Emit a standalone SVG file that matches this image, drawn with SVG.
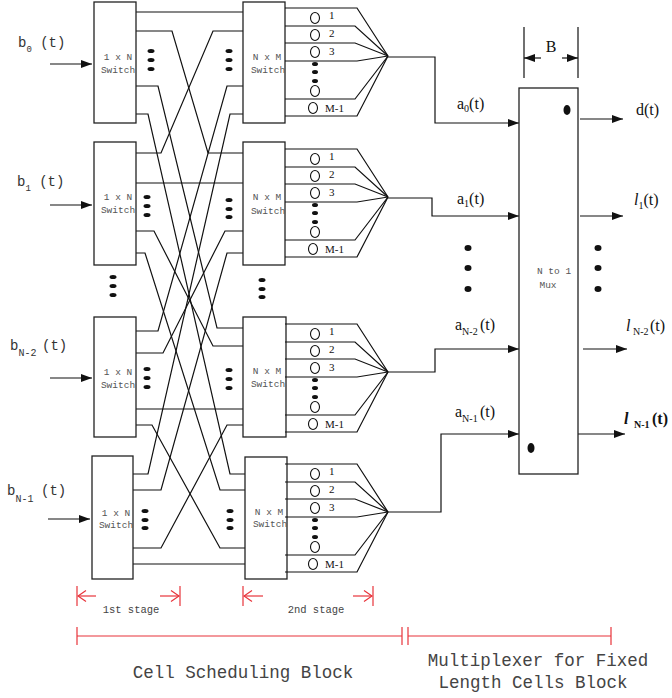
<svg xmlns="http://www.w3.org/2000/svg" width="672" height="698" viewBox="0 0 672 698">
<style>
.box{fill:#fff;stroke:#222;stroke-width:1.3}
.ln{fill:none;stroke:#111;stroke-width:1.2}
.sw{font-family:"Liberation Mono",monospace;font-size:9.5px;fill:#555;text-anchor:middle}
.in{font-family:"Liberation Mono",monospace;font-size:14px;fill:#333}
.se{font-family:"Liberation Serif",serif;font-size:16px;fill:#111}
.q{font-family:"Liberation Serif",serif;font-size:11px;fill:#111}
.dot{fill:#111}
.cq{fill:#fff;stroke:#111;stroke-width:1.1}
.red{fill:none;stroke:#e8333a;stroke-width:1.2}
.rt{font-family:"Liberation Mono",monospace;fill:#444}
</style>
<defs>
<marker id="ah" markerUnits="userSpaceOnUse" markerWidth="12" markerHeight="8" refX="11" refY="4" orient="auto"><path d="M0,0 L11,4 L0,8 z" fill="#111"/></marker>
<marker id="rah" markerUnits="userSpaceOnUse" markerWidth="10" markerHeight="12" refX="9" refY="6" orient="auto"><path d="M1,0.5 L9,6 L1,11.5" fill="none" stroke="#e8333a" stroke-width="1.2"/></marker>
<g id="queue">
<polyline class="ln" points="285,7 357,7 388,55"/>
<polyline class="ln" points="285,25 355,25 388,55"/>
<polyline class="ln" points="285,42 355,42 388,55"/>
<polyline class="ln" points="285,60 357,60 388,55"/>
<polyline class="ln" points="285,98 355,98 388,55"/>
<polyline class="ln" points="285,115 357,115 388,55"/>
<ellipse class="cq" cx="315" cy="17" rx="4.5" ry="5.5"/>
<ellipse class="cq" cx="315" cy="34" rx="4.5" ry="5.5"/>
<ellipse class="cq" cx="315" cy="51" rx="4.5" ry="5.5"/>
<ellipse class="cq" cx="315" cy="90" rx="4.5" ry="5.5"/>
<ellipse class="cq" cx="313" cy="107" rx="4.5" ry="5.5"/>
<ellipse class="dot" cx="315" cy="63" rx="3" ry="2"/>
<ellipse class="dot" cx="315" cy="71" rx="3" ry="2"/>
<ellipse class="dot" cx="315" cy="80" rx="3" ry="2"/>
<text class="q" x="329" y="18">1</text>
<text class="q" x="329" y="36">2</text>
<text class="q" x="329" y="54">3</text>
<text class="q" x="325" y="111">M-1</text>
</g>
</defs>

<g id="connectors">
<polyline class="ln" points="136,12 243,12"/>
<polyline class="ln" points="136,183 243,183"/>
<polyline class="ln" points="136,409 243,409"/>
<polyline class="ln" points="133,564 245,564"/>
<polyline class="ln" points="136,31 172,31 208,153 243,153"/>
<polyline class="ln" points="136,153 161,153 213,31 243,31"/>
<polyline class="ln" points="136,86 158,86 217,328 243,328"/>
<polyline class="ln" points="136,331 158,331 227,86 243,86"/>
<polyline class="ln" points="136,114 148,114 230,474 245,474"/>
<polyline class="ln" points="133,474 148,474 230,114 243,114"/>
<polyline class="ln" points="136,231 154,231 213,346 243,346"/>
<polyline class="ln" points="136,353 163,353 225,231 243,231"/>
<polyline class="ln" points="136,253 145,253 220,490 245,490"/>
<polyline class="ln" points="133,490 161,490 227,253 243,253"/>
<polyline class="ln" points="136,425 152,425 220,548 245,548"/>
<polyline class="ln" points="133,548 161,548 227,425 243,425"/>
<line class="ln" x1="50" y1="64" x2="92" y2="64" marker-end="url(#ah)"/>
<line class="ln" x1="50" y1="205" x2="92" y2="205" marker-end="url(#ah)"/>
<line class="ln" x1="50" y1="378" x2="92" y2="378" marker-end="url(#ah)"/>
<line class="ln" x1="48" y1="519" x2="90" y2="519" marker-end="url(#ah)"/>
<polyline class="ln" points="388,57 435,57 435,123 519,123" marker-end="url(#ah)"/>
<polyline class="ln" points="388,198 432,198 432,216 519,216" marker-end="url(#ah)"/>
<polyline class="ln" points="388,372 435,372 435,349 519,349" marker-end="url(#ah)"/>
<polyline class="ln" points="388,512 441,512 441,434 519,434" marker-end="url(#ah)"/>
<line class="ln" x1="580" y1="119" x2="623" y2="119" marker-end="url(#ah)"/>
<line class="ln" x1="580" y1="216" x2="623" y2="216" marker-end="url(#ah)"/>
<line class="ln" x1="583" y1="349" x2="627" y2="349" marker-end="url(#ah)"/>
<line class="ln" x1="578" y1="434" x2="625" y2="434" marker-end="url(#ah)"/>
</g>

<g id="S0"><rect class="box" x="94" y="2" width="42" height="121"/><text class="sw" x="118" y="60">1 x N</text><text class="sw" x="118" y="73">Switch</text></g>
<g id="S1"><rect class="box" x="94" y="142" width="42" height="123"/><text class="sw" x="118" y="200">1 x N</text><text class="sw" x="118" y="213">Switch</text></g>
<g id="S2"><rect class="box" x="94" y="317" width="42" height="120"/><text class="sw" x="118" y="375">1 x N</text><text class="sw" x="118" y="388">Switch</text></g>
<g id="S3"><rect class="box" x="92" y="456" width="41" height="123"/><text class="sw" x="116" y="516">1 x N</text><text class="sw" x="116" y="528">Switch</text></g>

<g id="T0"><rect class="box" x="243" y="2" width="42" height="121"/><text class="sw" x="267" y="60">N x M</text><text class="sw" x="268" y="73">Switch</text><use href="#queue" y="1"/></g>
<g id="T1"><rect class="box" x="243" y="142" width="42" height="123"/><text class="sw" x="267" y="200">N x M</text><text class="sw" x="268" y="214">Switch</text><use href="#queue" y="142"/></g>
<g id="T2"><rect class="box" x="243" y="317" width="43" height="120"/><text class="sw" x="267" y="374">N x M</text><text class="sw" x="268" y="387">Switch</text><use href="#queue" y="317"/></g>
<g id="T3"><rect class="box" x="245" y="457" width="42" height="122"/><text class="sw" x="269" y="515">N x M</text><text class="sw" x="270" y="527">Switch</text><use href="#queue" y="457"/></g>

<g id="dots">
<ellipse class="dot" cx="151" cy="51" rx="3.5" ry="2"/><ellipse class="dot" cx="151" cy="60" rx="3.5" ry="2"/><ellipse class="dot" cx="151" cy="69" rx="3.5" ry="2"/>
<ellipse class="dot" cx="229" cy="51" rx="3.5" ry="2"/><ellipse class="dot" cx="229" cy="60" rx="3.5" ry="2"/><ellipse class="dot" cx="229" cy="69" rx="3.5" ry="2"/>
<ellipse class="dot" cx="147" cy="197" rx="3.5" ry="2"/><ellipse class="dot" cx="147" cy="206" rx="3.5" ry="2"/><ellipse class="dot" cx="147" cy="215" rx="3.5" ry="2"/>
<ellipse class="dot" cx="229" cy="200" rx="3.5" ry="2"/><ellipse class="dot" cx="229" cy="209" rx="3.5" ry="2"/><ellipse class="dot" cx="229" cy="217" rx="3.5" ry="2"/>
<ellipse class="dot" cx="147" cy="369" rx="3.5" ry="2"/><ellipse class="dot" cx="147" cy="378" rx="3.5" ry="2"/><ellipse class="dot" cx="147" cy="387" rx="3.5" ry="2"/>
<ellipse class="dot" cx="229" cy="370" rx="3.5" ry="2"/><ellipse class="dot" cx="229" cy="379" rx="3.5" ry="2"/><ellipse class="dot" cx="229" cy="388" rx="3.5" ry="2"/>
<ellipse class="dot" cx="145" cy="511" rx="3.5" ry="2"/><ellipse class="dot" cx="145" cy="520" rx="3.5" ry="2"/><ellipse class="dot" cx="145" cy="528" rx="3.5" ry="2"/>
<ellipse class="dot" cx="230" cy="511" rx="3.5" ry="2"/><ellipse class="dot" cx="230" cy="520" rx="3.5" ry="2"/><ellipse class="dot" cx="230" cy="528" rx="3.5" ry="2"/>
<ellipse class="dot" cx="113" cy="277" rx="3.5" ry="2"/><ellipse class="dot" cx="113" cy="286" rx="3.5" ry="2"/><ellipse class="dot" cx="113" cy="295" rx="3.5" ry="2"/>
<ellipse class="dot" cx="262" cy="280" rx="3.5" ry="2"/><ellipse class="dot" cx="262" cy="289" rx="3.5" ry="2"/><ellipse class="dot" cx="262" cy="297" rx="3.5" ry="2"/>
<ellipse class="dot" cx="468" cy="248" rx="3.5" ry="3"/><ellipse class="dot" cx="468" cy="268" rx="3.5" ry="3"/><ellipse class="dot" cx="468" cy="289" rx="3.5" ry="3"/>
<ellipse class="dot" cx="598" cy="248" rx="3.5" ry="3"/><ellipse class="dot" cx="598" cy="268" rx="3.5" ry="3"/><ellipse class="dot" cx="598" cy="289" rx="3.5" ry="3"/>
</g>

<g id="inputs">
<text class="in" x="18" y="47">b<tspan font-size="9" dy="5">0</tspan><tspan dy="-5"> (t)</tspan></text>
<text class="in" x="17" y="186">b<tspan font-size="9" dy="5">1</tspan><tspan dy="-5"> (t)</tspan></text>
<text class="in" x="10" y="350">b<tspan font-size="10" dy="6">N-2</tspan><tspan dy="-6" x="42">(t)</tspan></text>
<text class="in" x="7" y="495">b<tspan font-size="10" dy="7">N-1</tspan><tspan dy="-7" x="41">(t)</tspan></text>
</g>

<g id="mux">
<rect class="box" x="519" y="88" width="59" height="386"/>
<ellipse class="dot" cx="567" cy="110" rx="3.5" ry="5"/>
<ellipse class="dot" cx="531" cy="448" rx="3.5" ry="5"/>
<text class="sw" x="554" y="274" font-size="8.5">N to 1</text>
<text class="sw" x="548" y="288" font-size="8.5">Mux</text>
<line class="ln" x1="524" y1="27" x2="524" y2="78"/>
<line class="ln" x1="578" y1="27" x2="578" y2="78"/>
<line class="ln" x1="541" y1="58" x2="524" y2="58" marker-end="url(#ah)"/>
<line class="ln" x1="562" y1="58" x2="578" y2="58" marker-end="url(#ah)"/>
<text class="se" x="551" y="52" text-anchor="middle">B</text>
</g>

<g id="labels">
<text class="se" x="457" y="109">a<tspan font-size="10" dy="3">0</tspan><tspan dy="-3">(t)</tspan></text>
<text class="se" x="457" y="204">a<tspan font-size="10" dy="3">1</tspan><tspan dy="-3">(t)</tspan></text>
<text class="se" x="455" y="330">a<tspan font-size="10" dy="5">N-2</tspan><tspan dy="-5" x="480">(t)</tspan></text>
<text class="se" x="455" y="417">a<tspan font-size="10" dy="5">N-1</tspan><tspan dy="-5" x="480">(t)</tspan></text>
<text class="se" x="636" y="115">d(t)</text>
<text class="se" x="634" y="205"><tspan font-style="italic">l</tspan><tspan font-size="10" dy="4">1</tspan><tspan dy="-4">(t)</tspan></text>
<text class="se" x="626" y="331"><tspan font-style="italic">l</tspan><tspan font-size="10" dy="4" x="633">N-2</tspan><tspan dy="-4" x="650">(t)</tspan></text>
<text class="se" x="624" y="424" font-weight="bold"><tspan font-style="italic">l</tspan><tspan font-size="10" dy="4" x="634">N-1</tspan><tspan dy="-4" x="652">(t)</tspan></text>
</g>

<g id="dimensions">
<line class="red" x1="77" y1="586" x2="77" y2="606"/>
<line class="red" x1="180" y1="586" x2="180" y2="606"/>
<line class="red" x1="243" y1="586" x2="243" y2="606"/>
<line class="red" x1="373" y1="586" x2="373" y2="606"/>
<line class="red" x1="96" y1="596" x2="78" y2="596" marker-end="url(#rah)"/>
<line class="red" x1="160" y1="596" x2="179" y2="596" marker-end="url(#rah)"/>
<line class="red" x1="263" y1="596" x2="244" y2="596" marker-end="url(#rah)"/>
<line class="red" x1="353" y1="596" x2="372" y2="596" marker-end="url(#rah)"/>
<text class="rt" x="131" y="613" font-size="10.5" text-anchor="middle">1st stage</text>
<text class="rt" x="316" y="613" font-size="10.5" text-anchor="middle">2nd stage</text>
<line class="red" x1="77" y1="636" x2="402" y2="636"/>
<line class="red" x1="77" y1="627" x2="77" y2="645"/>
<line class="red" x1="402" y1="627" x2="402" y2="645"/>
<line class="red" x1="408" y1="627" x2="408" y2="645"/>
<line class="red" x1="408" y1="636" x2="611" y2="636"/>
<line class="red" x1="611" y1="627" x2="611" y2="645"/>
<text class="rt" x="243" y="678" font-size="17.5" text-anchor="middle">Cell Scheduling Block</text>
<text class="rt" x="538" y="666" font-size="17.5" text-anchor="middle">Multiplexer for Fixed</text>
<text class="rt" x="533" y="688" font-size="17.5" text-anchor="middle">Length Cells Block</text>
</g>
</svg>
